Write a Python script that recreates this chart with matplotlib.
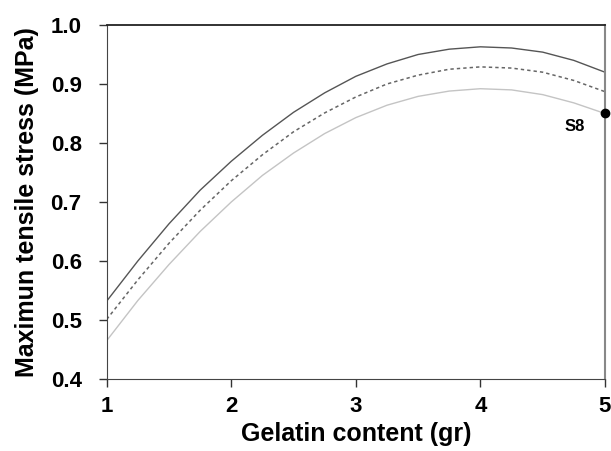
import numpy as np
import matplotlib.pyplot as plt

# gelatin content (gr)
gelatin = [1.0, 1.25, 1.5, 1.75, 2.0, 2.25, 2.5, 2.75, 3.0,
           3.25, 3.5, 3.75, 4.0, 4.25, 4.5, 4.75, 5.0]

# maximum tensile stress (MPa), three curves
stress_upper = [0.532, 0.600, 0.663, 0.720, 0.769, 0.813, 0.852, 0.885, 0.913,
                0.934, 0.950, 0.959, 0.963, 0.961, 0.954, 0.940, 0.920]
stress_mid = [0.501, 0.568, 0.630, 0.686, 0.736, 0.780, 0.819, 0.851, 0.878,
              0.900, 0.915, 0.925, 0.929, 0.927, 0.920, 0.906, 0.887]
stress_lower = [0.465, 0.533, 0.594, 0.650, 0.700, 0.745, 0.783, 0.816, 0.843,
                0.864, 0.879, 0.888, 0.892, 0.890, 0.882, 0.868, 0.850]

point_label = "S8"
point_x = 5.0
point_y = 0.85


def main():
    plt.rcParams['font.family'] = ['Liberation Sans', 'DejaVu Sans']
    plt.rcParams['font.weight'] = 'bold'

    fig = plt.figure(figsize=(6.11, 4.51), dpi=100)
    ax = fig.add_axes([0.1746, 0.1596, 0.8155, 0.785])

    ax.plot(gelatin, stress_upper, '-', color='#555555', lw=1.0)
    ax.plot(gelatin, stress_mid, color='#666666', lw=1.1, dashes=(2.2, 2.0))
    ax.plot(gelatin, stress_lower, '-', color='#c4c4c4', lw=1.0)

    ax.plot([point_x], [point_y], 'o', color='black', ms=6, clip_on=False, zorder=5)
    ax.text(4.76, 0.828, point_label, fontsize=12, fontweight='bold',
            ha='center', va='center')

    ax.set_xlim(1, 5)
    ax.set_ylim(0.4, 1.0)
    ax.set_xticks([1, 2, 3, 4, 5])
    ax.set_yticks(np.arange(0.4, 1.01, 0.1))
    ax.set_yticklabels(["%.1f" % v for v in np.arange(0.4, 1.01, 0.1)])

    ax.tick_params(axis='both', direction='out', length=6, width=1,
                   labelsize=16, colors='#333333', labelcolor='black')
    ax.tick_params(axis='y', pad=12)
    ax.tick_params(axis='x', pad=6)
    for lbl in ax.get_xticklabels() + ax.get_yticklabels():
        lbl.set_fontweight('bold')

    ax.spines['top'].set_color('#222222')
    ax.spines['top'].set_linewidth(1.3)
    ax.spines['left'].set_color('#444444')
    ax.spines['bottom'].set_color('#444444')
    ax.spines['right'].set_color('#888888')
    ax.spines['right'].set_linewidth(1.5)

    ax.set_xlabel("Gelatin content (gr)", fontsize=18, fontweight='bold', labelpad=4)
    ax.set_ylabel("Maximun tensile stress (MPa)", fontsize=18, fontweight='bold', labelpad=8)

    plt.savefig('out.png', dpi=100)


if __name__ == '__main__':
    main()
